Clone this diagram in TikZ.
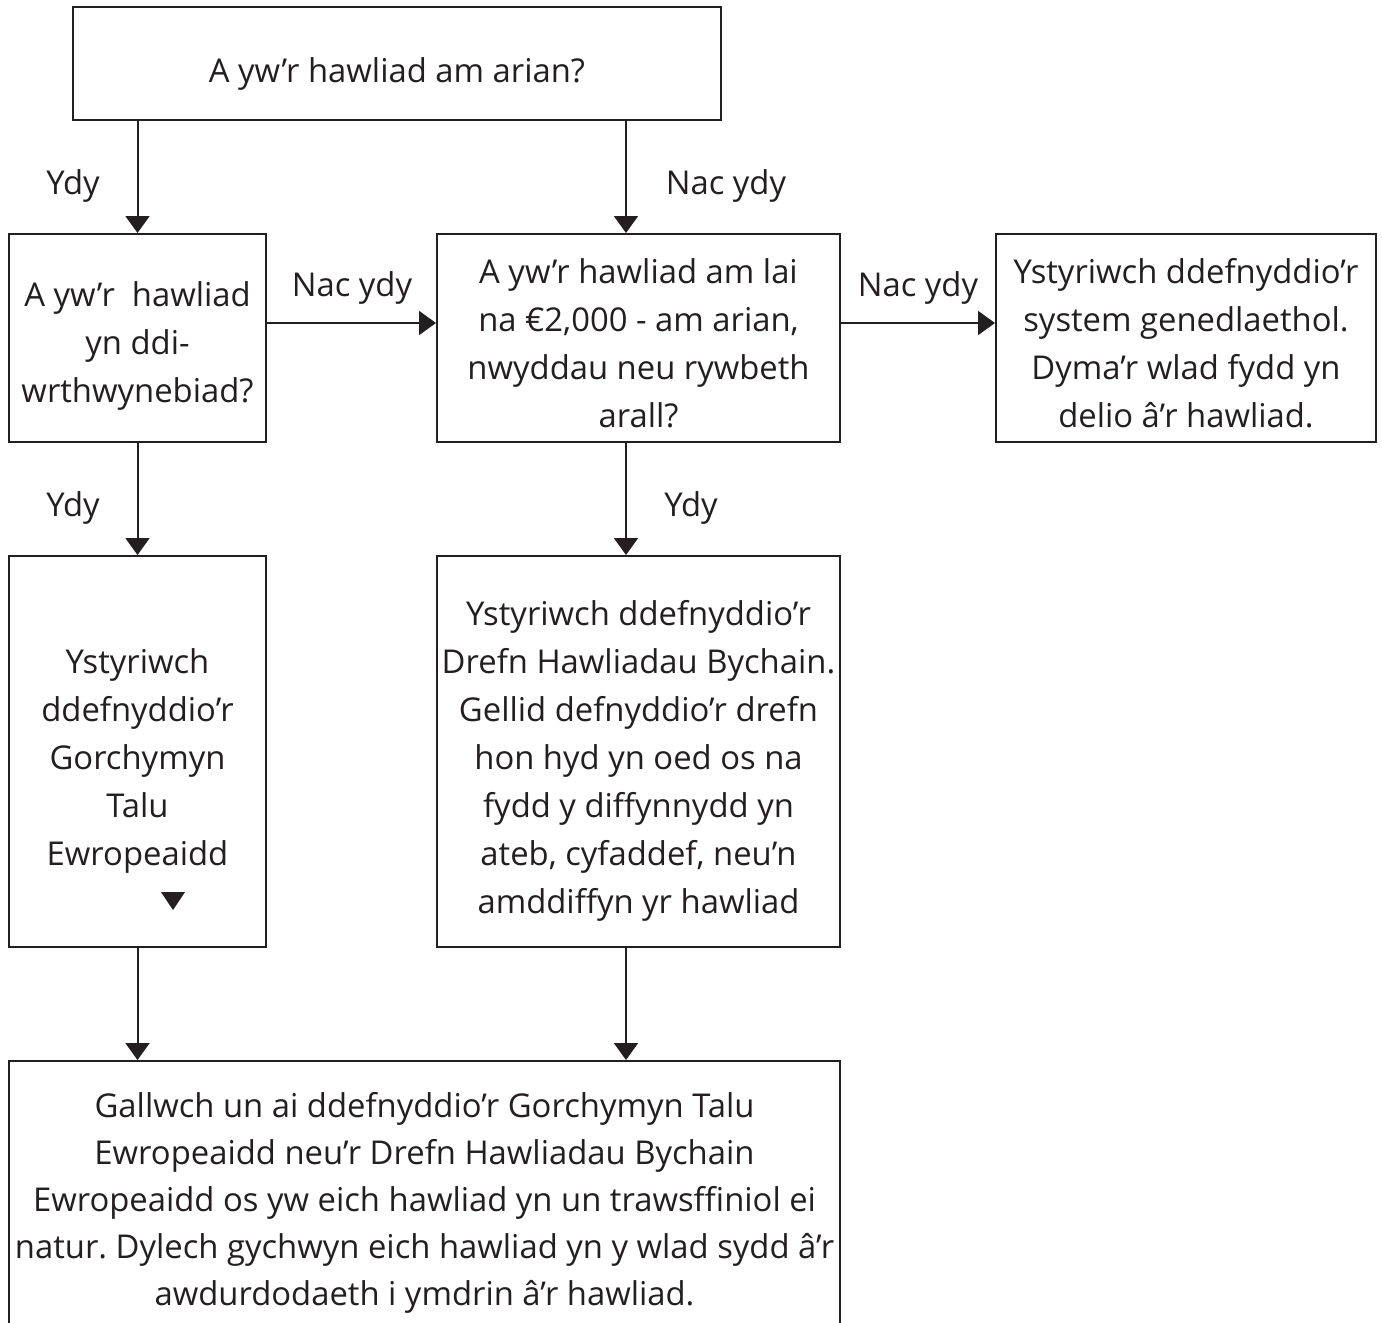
\documentclass[tikz,border=0pt]{standalone}
\usepackage{fontspec}
\setmainfont{Open Sans}
\usetikzlibrary{arrows.meta,calc}
\definecolor{ink}{RGB}{35,31,32}
\begin{document}
\begin{tikzpicture}[x=0.5pt,y=-0.5pt,
  box/.style={draw=ink,line width=1pt,inner sep=0pt},
  txt/.style={inner sep=0pt,align=center,text=ink,
    font=\frenchspacing\fontsize{16.4}{24}\selectfont},
  lbl/.style={text=ink,inner sep=0pt,font=\fontsize{16.4}{24}\selectfont},
  arr/.style={draw=ink,line width=1pt,-{Triangle[width=12pt,length=8.5pt]}}]
\clip (0,0) rectangle (1382,1323);
\fill[white] (0,0) rectangle (1382,1323);
% boxes
\node[box,minimum width=324pt,minimum height=56.5pt] (top) at (397,63.5) {};
\node[box,minimum width=128.5pt,minimum height=104pt] (left2) at (137.5,338) {};
\node[box,minimum width=201.5pt,minimum height=104pt] (mid2) at (638.5,338) {};
\node[box,minimum width=190pt,minimum height=104pt] (right2) at (1186,338) {};
\node[box,minimum width=128.5pt,minimum height=195.5pt] (left3) at (137.5,751.5) {};
\node[box,minimum width=201.5pt,minimum height=195.5pt] (mid3) at (638.5,751.5) {};
\node[box,minimum width=415.5pt,minimum height=139.5pt] (bottom) at (424.5,1200.5) {};
% texts
\node[txt] (ttop) at ([yshift=-5pt]top.center) {A yw’r hawliad am arian?};
\node[txt] (tleft2) at ([yshift=-4pt]left2.center) {A yw’r\ \ hawliad\\yn ddi-\\wrthwynebiad?};
\node[txt] (tmid2) at ([yshift=-2.5pt]mid2.center) {A yw’r hawliad am lai\\na €2,000 - am arian,\\nwyddau neu rywbeth\\arall?};
\node[txt] (tright2) at ([yshift=-2.5pt]right2.center) {Ystyriwch ddefnyddio’r\\system genedlaethol.\\Dyma’r wlad fydd yn\\delio â’r hawliad.};
\node[txt] (tleft3) at ([yshift=-4.5pt]left3.center) {Ystyriwch\\ddefnyddio’r\\Gorchymyn\\Talu\\Ewropeaidd};
\node[txt] (tmid3) at ([yshift=-4.5pt]mid3.center) {Ystyriwch ddefnyddio’r\\Drefn Hawliadau Bychain.\\Gellid defnyddio’r drefn\\hon hyd yn oed os na\\fydd y diffynnydd yn\\ateb, cyfaddef, neu’n\\amddiffyn yr hawliad};
\node[txt,font=\frenchspacing\fontsize{16.4}{23.5}\selectfont] (tbottom) at ([yshift=-1pt]bottom.center) {Gallwch un ai ddefnyddio’r Gorchymyn Talu\\Ewropeaidd neu’r Drefn Hawliadau Bychain\\Ewropeaidd os yw eich hawliad yn un trawsffiniol ei\\natur. Dylech gychwyn eich hawliad yn y wlad sydd â’r\\awdurdodaeth i ymdrin â’r hawliad.};
\fill[ink] (161,892) -- (185,892) -- (173,910) -- cycle;
% connectors
\coordinate (m2n) at ($(mid2.north)+(-12.5,0)$);
\coordinate (m2s) at ($(mid2.south)+(-12.5,0)$);
\coordinate (m3n) at ($(mid3.north)+(-12.5,0)$);
\coordinate (m3s) at ($(mid3.south)+(-12.5,0)$);
\coordinate (l2e) at ($(left2.east)+(0,-15)$);
\coordinate (m2e) at ($(mid2.east)+(0,-15)$);
\draw[arr] (top.south -| left2.north) -- (left2.north);
\draw[arr] (top.south -| m2n) -- (m2n);
\draw[arr] (l2e) -- (l2e -| mid2.west);
\draw[arr] (m2e) -- (m2e -| right2.west);
\draw[arr] (left2.south) -- (left3.north);
\draw[arr] (m2s) -- (m3n);
\draw[arr] (left3.south) -- (left3.south |- bottom.north);
\draw[arr] (m3s) -- (m3s |- bottom.north);
% labels
\node[lbl] (y1) at (73,186) {Ydy};
\node[lbl] (n1) at (726,186) {Nac ydy};
\node[lbl] (n2) at (352,288) {Nac ydy};
\node[lbl] (n3) at (918,288) {Nac ydy};
\node[lbl] (y2) at (73,508) {Ydy};
\node[lbl] (y3) at (691,508) {Ydy};
\end{tikzpicture}
\end{document}
